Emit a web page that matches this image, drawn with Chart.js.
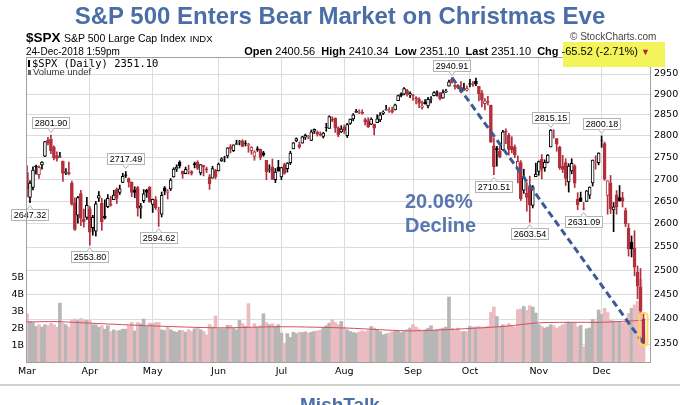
<!DOCTYPE html>
<html>
<head>
<meta charset="utf-8">
<script src="https://cdn.jsdelivr.net/npm/chart.js@4.4.1/dist/chart.umd.min.js"></script>
<style>
body { margin: 0; background: #fff; }
#wrap { position: relative; width: 680px; height: 405px; overflow: hidden; font-family: "Liberation Sans", Arial, sans-serif; }
#wrap div { position: absolute; white-space: nowrap; }
canvas { position: absolute; left: 0; top: 0; }
#title { left: 0; width: 680px; top: 4px; text-align: center; font: bold 24px/24px "Liberation Sans", Arial; color: #4b6ea6; }
#sym { left: 26px; top: 31px; font: bold 13.5px/13.5px "Liberation Sans", Arial; }
#name { left: 64px; top: 33px; font: 10.5px/10.5px "Liberation Sans", Arial; }
#name span { font-size: 9.5px; margin-left: 4px; }
#date { left: 26px; top: 47px; font: 10px/10px "Liberation Sans", Arial; }
#yellow { left: 563px; top: 42px; width: 102px; height: 25px; background: #f3f35a; }
#info { right: 30px; top: 46px; font: 11px/11px "Liberation Sans", Arial; }
#info .tri { color: #a8282e; font-size: 9px; }
#sc { left: 570px; top: 32px; font: 10px/10px "Liberation Sans", Arial; color: #444; }
#legend { left: 32px; top: 58px; font: 10.5px/10.5px "DejaVu Sans Mono", monospace; }
#legend2 { left: 33px; top: 67px; font: 9.5px/9.5px "Liberation Sans", Arial; color: #333; }
#ic1 { left: 28px; top: 60px; width: 2px; height: 7px; background: #000; }
#ic2 { left: 28px; top: 70px; width: 3px; height: 5px; background: #666; }
#decline { left: 405px; top: 189px; font: bold 20px/24px "Liberation Sans", Arial; color: #5876af; }
#sep { left: 0; top: 384px; width: 680px; height: 2px; background: #d2d2d2; }
#mish { left: 0; width: 680px; top: 395px; text-align: center; font: bold 19px/19px "Liberation Sans", Arial; color: #4b6ea6; }
</style>
</head>
<body>
<div id="wrap">
<canvas id="chart" width="680" height="405"></canvas>
<div id="title">S&amp;P 500 Enters Bear Market on Christmas Eve</div>
<div id="sym">$SPX</div>
<div id="name">S&amp;P 500 Large Cap Index<span>INDX</span></div>
<div id="date">24-Dec-2018 1:59pm</div>
<div id="yellow"></div>
<div id="sc">© StockCharts.com</div>
<div id="info"><b>Open</b> 2400.56 &nbsp;<b>High</b> 2410.34 &nbsp;<b>Low</b> 2351.10 &nbsp;<b>Last</b> 2351.10 &nbsp;<b>Chg</b> -65.52 (-2.71%) <span class="tri">▼</span></div>
<div id="ic1"></div>
<div id="legend">$SPX (Daily) 2351.10</div>
<div id="ic2"></div>
<div id="legend2">Volume undef</div>
<div id="decline">20.06%<br>Decline</div>
<div id="sep"></div>
<div id="mish">MishTalk</div>
</div>
<script>
// daily candles, 1-Mar-2018 .. 24-Dec-2018 (one row per month)
const opens = [
  2715.22,2658.89,2681.06,2730.18,2710.18,2732.75,2752.91,2790.54,2792.31,2774.06,2754.27,2750.57,2741.38,2715.05,2714.99,2691.36,2646.71,2619.35,2667.57,2611.30,2614.41,
  2633.45,2592.17,2584.04,2657.36,2645.82,2617.18,2638.41,2643.89,2653.83,2676.90,2670.10,2692.74,2710.11,2701.16,2692.56,2675.40,2680.80,2634.92,2651.65,2675.47,2682.51,
  2642.96,2654.24,2628.08,2621.45,2680.34,2670.26,2678.12,2705.02,2722.70,2738.47,2718.59,2712.62,2719.71,2717.35,2735.39,2738.34,2713.98,2730.94,2723.60,2705.11,2702.43,2720.98,
  2718.70,2741.67,2748.46,2753.25,2774.84,2765.84,2780.18,2785.60,2787.94,2783.21,2777.78,2765.79,2752.01,2769.73,2769.28,2760.79,2742.94,2722.12,2728.45,2698.69,2727.13,
  2704.95,2733.27,2724.19,2737.68,2769.76,2788.56,2779.82,2783.14,2796.93,2797.36,2789.34,2811.35,2809.37,2804.55,2799.17,2820.68,2817.73,2839.29,2842.35,2819.00,2809.73,
  2821.17,2800.48,2829.62,2840.29,2855.92,2856.79,2857.19,2838.90,2835.46,2827.88,2827.95,2831.44,2838.32,2853.93,2861.51,2860.99,2860.29,2862.35,2884.69,2901.45,2900.62,2908.94,2898.37,
  2896.96,2891.59,2888.64,2868.26,2881.39,2871.57,2888.29,2896.85,2906.38,2903.83,2890.74,2906.60,2919.73,2936.76,2921.83,2921.75,2916.98,2911.65,2910.03,
  2926.29,2923.80,2931.69,2919.35,2902.54,2877.53,2882.51,2873.90,2776.87,2770.54,2763.83,2767.05,2811.67,2802.00,2775.66,2773.94,2721.03,2737.87,2674.88,2667.86,2682.65,2640.68,2705.60,
  2717.58,2745.45,2726.37,2738.40,2774.13,2806.38,2794.10,2773.93,2730.05,2737.90,2693.52,2718.54,2730.74,2654.60,2657.74,2633.36,2649.97,2663.75,2691.45,2736.97,2737.76,
  2790.50,2782.43,2663.51,2691.26,2630.86,2664.44,2658.23,2658.70,2629.68,2590.75,2559.90,2547.05,2496.77,2465.38,2400.56
];
const highs = [
  2730.89,2696.25,2728.09,2732.08,2730.60,2740.45,2786.57,2796.98,2801.90,2777.11,2763.03,2761.85,2741.38,2724.22,2739.14,2695.68,2657.67,2661.36,2674.78,2632.65,2659.07,
  2638.30,2619.14,2649.86,2672.08,2656.88,2653.55,2665.45,2661.43,2674.72,2680.26,2686.49,2713.34,2717.49,2702.84,2693.94,2682.86,2683.55,2645.30,2676.48,2677.35,2682.87,
  2655.27,2660.87,2637.14,2670.93,2683.35,2676.34,2701.27,2726.11,2732.86,2742.10,2718.59,2727.76,2731.96,2719.50,2739.19,2742.24,2733.33,2731.97,2727.36,2710.67,2729.34,2722.50,
  2736.93,2749.16,2752.61,2772.39,2779.90,2779.39,2790.21,2789.80,2791.47,2789.06,2782.81,2774.99,2765.05,2774.86,2769.28,2764.17,2742.94,2732.91,2746.09,2724.34,2743.26,
  2727.26,2736.58,2737.83,2764.41,2784.65,2795.58,2785.91,2799.22,2804.53,2801.19,2814.19,2816.76,2812.05,2809.70,2808.61,2829.99,2848.03,2845.85,2843.17,2821.74,2824.46,
  2825.83,2829.91,2840.38,2853.29,2863.43,2862.44,2862.48,2842.20,2843.40,2843.11,2827.95,2850.49,2855.63,2859.76,2873.23,2867.54,2868.78,2876.16,2898.25,2903.77,2916.50,2912.46,2906.32,
  2900.18,2894.21,2892.05,2883.81,2886.93,2892.52,2894.65,2906.76,2908.30,2904.65,2911.17,2912.36,2934.80,2940.91,2923.79,2923.95,2931.15,2927.22,2920.53,
  2937.06,2931.42,2939.86,2919.78,2909.64,2889.45,2894.83,2874.02,2795.14,2775.77,2775.99,2813.46,2816.94,2806.04,2797.77,2778.94,2753.59,2742.59,2722.70,2692.38,2706.85,2685.43,2736.69,
  2741.67,2756.55,2744.27,2756.82,2815.15,2814.75,2794.10,2775.99,2754.60,2746.80,2735.38,2746.75,2733.16,2669.44,2670.73,2647.55,2674.35,2682.53,2744.00,2753.75,2760.88,
  2800.18,2785.93,2696.15,2708.54,2647.51,2674.35,2685.44,2670.19,2635.07,2601.13,2573.99,2585.29,2509.63,2504.41,2410.34
];
const lows = [
  2659.65,2647.32,2675.75,2711.26,2701.74,2722.65,2751.54,2779.26,2758.68,2744.38,2741.47,2749.97,2694.59,2710.05,2709.79,2641.59,2585.89,2601.81,2596.12,2593.06,2609.72,
  2553.80,2575.49,2573.61,2649.58,2586.27,2610.79,2635.78,2639.25,2653.83,2645.05,2665.16,2692.05,2703.63,2681.90,2660.61,2657.99,2617.32,2612.67,2647.16,2659.01,2648.04,
  2625.41,2631.70,2594.62,2615.32,2664.70,2655.20,2674.14,2704.54,2717.45,2725.47,2701.91,2712.17,2711.36,2709.18,2725.70,2721.88,2709.54,2707.38,2714.99,2676.81,2702.43,2700.68,
  2718.70,2740.54,2739.51,2748.46,2760.16,2763.59,2780.17,2778.78,2774.65,2776.52,2761.73,2757.12,2743.19,2763.91,2744.39,2752.68,2698.67,2715.60,2699.38,2691.99,2718.03,
  2698.95,2711.16,2716.02,2733.52,2769.76,2786.24,2770.77,2783.14,2791.69,2793.39,2789.24,2805.89,2799.77,2800.01,2795.14,2811.12,2817.73,2833.75,2808.34,2798.11,2808.06,
  2805.85,2796.34,2827.37,2835.98,2855.92,2853.09,2851.98,2825.81,2819.88,2826.58,2802.49,2831.44,2833.73,2850.62,2861.32,2856.05,2854.03,2862.35,2884.69,2893.50,2898.40,2895.22,2891.73,
  2885.13,2876.92,2867.29,2864.12,2875.94,2866.78,2879.20,2896.39,2895.77,2886.16,2890.43,2903.82,2919.73,2927.11,2912.63,2913.70,2903.28,2909.27,2907.50,
  2917.91,2919.37,2921.36,2883.92,2869.29,2862.08,2874.27,2784.86,2710.51,2729.44,2749.03,2766.91,2781.81,2755.18,2760.27,2749.22,2691.43,2651.89,2667.84,2628.16,2603.54,2635.34,2705.60,
  2708.85,2700.44,2717.94,2737.08,2774.13,2794.99,2764.24,2722.00,2714.98,2685.75,2670.75,2712.16,2681.09,2631.52,2649.82,2631.09,2649.97,2655.89,2684.38,2722.94,2732.76,
  2773.38,2697.18,2621.53,2623.14,2583.23,2621.30,2650.26,2637.27,2593.84,2530.54,2528.71,2488.96,2441.18,2408.55,2351.10
];
const closes = [
  2677.67,2691.25,2720.94,2728.12,2726.80,2738.97,2786.57,2783.02,2765.31,2749.48,2747.33,2752.01,2712.92,2716.94,2711.93,2643.69,2588.26,2658.55,2612.62,2605.00,2640.87,
  2581.88,2614.45,2644.69,2662.84,2604.47,2613.16,2656.87,2642.19,2663.99,2656.30,2677.84,2706.39,2708.64,2693.13,2670.14,2670.29,2634.56,2639.40,2666.94,2669.91,2648.05,
  2654.80,2635.67,2629.73,2663.42,2672.63,2671.92,2697.79,2723.07,2727.72,2730.13,2711.45,2722.46,2720.13,2712.97,2733.01,2724.44,2733.29,2727.76,2721.33,2689.86,2724.01,2705.27,
  2734.62,2746.87,2748.80,2772.35,2770.37,2779.03,2782.00,2786.85,2775.63,2782.49,2779.66,2773.75,2762.59,2767.32,2749.76,2754.88,2717.07,2723.06,2699.63,2716.31,2718.37,
  2726.71,2713.22,2736.61,2759.82,2784.17,2793.84,2774.02,2798.29,2801.31,2798.43,2809.55,2815.62,2804.49,2801.83,2806.98,2820.40,2846.07,2837.44,2818.82,2802.60,2816.29,
  2813.36,2827.22,2840.35,2850.40,2858.45,2857.70,2853.58,2833.28,2821.93,2839.96,2818.37,2840.69,2850.13,2857.05,2862.96,2861.82,2856.98,2874.69,2896.74,2897.52,2914.04,2901.13,2901.52,
  2896.72,2888.60,2878.05,2871.68,2877.13,2887.89,2888.92,2904.18,2904.98,2888.80,2904.31,2907.95,2930.75,2929.67,2919.37,2915.56,2905.97,2914.00,2913.98,
  2924.59,2923.43,2925.51,2901.61,2885.57,2884.43,2880.34,2785.68,2728.37,2767.13,2750.79,2809.92,2809.21,2768.78,2767.78,2755.88,2740.69,2656.10,2705.57,2658.69,2641.25,2682.63,2711.74,
  2740.37,2723.06,2738.31,2755.45,2813.89,2806.83,2781.01,2726.22,2722.18,2701.58,2730.20,2736.27,2690.73,2641.89,2649.93,2632.56,2673.45,2682.17,2743.79,2737.80,2760.17,
  2790.37,2700.06,2695.95,2633.08,2637.72,2636.78,2651.07,2650.54,2599.95,2545.94,2546.16,2506.96,2467.42,2416.62,2351.10
];
const prevClose = 2713.83; // 28-Feb-2018

// volume, billions of shares
const volumes = [
  2.88,2.43,2.37,2.14,2.24,2.10,2.24,2.18,2.33,2.24,2.10,3.50,2.33,2.24,2.10,2.53,2.57,2.49,2.60,2.53,2.49,
  2.49,2.24,2.24,2.10,2.18,1.98,2.18,1.84,1.94,1.88,1.90,1.98,1.98,2.18,2.37,1.88,2.37,2.29,2.57,2.14,2.33,
  2.29,2.37,2.37,1.94,1.90,2.10,1.95,1.85,1.80,1.90,1.90,1.80,1.95,1.85,2.00,2.05,1.95,1.85,1.65,2.25,2.10,2.75,
  2.00,2.00,2.00,2.20,2.20,2.05,1.95,2.49,2.30,2.15,3.47,2.04,2.30,2.10,2.18,2.88,2.37,2.24,2.29,2.14,2.24,
  1.75,1.16,1.72,1.50,1.80,1.72,1.80,1.78,1.82,1.75,1.80,1.85,1.88,1.92,2.05,2.18,2.33,2.53,2.37,2.24,2.43,
  2.10,1.94,1.84,1.78,1.75,1.82,1.88,1.84,1.90,2.14,2.05,1.94,1.84,1.65,1.70,1.75,1.84,1.90,1.88,1.78,1.84,1.95,2.05,
  2.24,2.10,1.98,1.84,1.94,2.04,2.18,1.90,1.95,2.00,2.04,2.10,3.86,2.04,1.94,2.04,1.84,1.84,1.85,
  2.14,2.10,2.10,2.14,2.04,2.10,2.14,2.96,3.28,2.72,2.14,2.24,2.18,2.30,2.20,2.10,3.12,3.16,3.31,3.08,3.35,3.27,2.92,
  2.24,2.14,2.04,2.10,2.24,2.18,2.04,2.14,2.24,2.30,2.40,2.35,2.38,2.10,2.20,0.95,2.00,2.05,2.55,2.45,3.10,
  2.85,3.20,2.95,2.50,2.45,2.40,2.40,2.35,2.45,2.90,3.20,3.40,3.60,4.90,1.90
];

// volume moving average, read at a few days
const maDays = [0, 10, 21, 42, 64, 85, 106, 120, 129, 140, 148, 160, 171, 185, 192, 206];
const maVols = [2.40, 2.42, 2.33, 2.17, 2.06, 2.12, 2.05, 1.93, 1.88, 1.95, 2.02, 2.15, 2.35, 2.38, 2.38, 2.50];

// axes
const monthStarts = [0, 21, 42, 64, 85, 106, 129, 148, 171, 192];
const monthNames = ['Mar', 'Apr', 'May', 'Jun', 'Jul', 'Aug', 'Sep', 'Oct', 'Nov', 'Dec'];
const priceTicks = [2350, 2400, 2450, 2500, 2550, 2600, 2650, 2700, 2750, 2800, 2850, 2900, 2950];
const volTicks = [1, 2, 3, 4, 5];

// labelled highs / lows and the decline line (Sep 21 high -> Dec 24)
const labelSpots = [[1, 'low'], [8, 'high'], [21, 'low'], [33, 'high'], [44, 'low'], [142, 'high'],
  [156, 'low'], [168, 'low'], [175, 'high'], [186, 'low'], [192, 'high']];
const trendDays = [142, 206];

const RED = '#b3303d';
const BLACK = '#000';
const last = closes.length - 1;
const upDay = i => closes[i] >= (i ? closes[i - 1] : prevClose);
const hollow = i => closes[i] > opens[i];
const candleColor = c => upDay(c.dataIndex) ? BLACK : RED;

const days = closes.map((c, i) => i);
const wickData = days.map(i => ({x: i, y: [lows[i], highs[i]]}));
const bodyData = days.map(i => ({x: i, y: [Math.min(opens[i], closes[i]), Math.max(opens[i], closes[i])]}));
const volData = days.map(i => ({x: i, y: volumes[i]}));
const maData = maDays.map((d, k) => ({x: d, y: maVols[k]}));
const trendData = [{x: trendDays[0], y: highs[trendDays[0]]}, {x: trendDays[1], y: lows[trendDays[1]]}];

// labels, last-bar highlight and plot frame
const decor = {
  id: 'decor',
  afterDatasetsDraw(chart) {
    const {ctx, chartArea: a, scales: {x, y}} = chart;
    ctx.save();

    const lx = x.getPixelForValue(last);
    const t = y.getPixelForValue(highs[last]) - 1;
    const b = y.getPixelForValue(lows[last]) + 2;
    ctx.strokeStyle = 'rgba(255,214,80,0.95)';
    ctx.lineWidth = 2;
    ctx.beginPath();
    ctx.roundRect(lx - 4, t, 8, b - t, 3);
    ctx.stroke();

    ctx.font = '9px "Liberation Sans", Arial';
    ctx.textAlign = 'center';
    ctx.textBaseline = 'middle';
    ctx.lineWidth = 1;
    labelSpots.forEach(([i, kind]) => {
      const v = kind === 'high' ? highs[i] : lows[i];
      const px = x.getPixelForValue(i);
      const py = y.getPixelForValue(v);
      const txt = v.toFixed(2);
      const w = Math.round(ctx.measureText(txt).width + 4);
      const h = 11;
      const bx = Math.round(px - w / 2) + 0.5;
      const by = kind === 'high' ? Math.round(py - 7 - h) + 0.5 : Math.round(py + 6) + 0.5;
      ctx.fillStyle = '#fff';
      ctx.strokeStyle = '#b4b4b4';
      ctx.fillRect(bx, by, w, h);
      ctx.strokeRect(bx, by, w, h);
      const edge = kind === 'high' ? by + h : by;
      const tip = kind === 'high' ? edge + 4 : edge - 4;
      ctx.beginPath();
      ctx.moveTo(px - 3, edge);
      ctx.lineTo(px, tip);
      ctx.lineTo(px + 3, edge);
      ctx.fill();
      ctx.stroke();
      ctx.fillStyle = '#000';
      ctx.fillText(txt, bx + w / 2, by + h / 2 + 0.5);
    });

    ctx.strokeStyle = '#a0a0a0';
    ctx.strokeRect(a.left + 0.5, a.top + 0.5, a.width - 1, a.height - 1);
    ctx.restore();
  }
};

const axisFont = {family: 'DejaVu Sans', size: 9.5};

new Chart(document.getElementById('chart'), {
  type: 'bar',
  data: {
    datasets: [
      {
        type: 'line', data: trendData, yAxisID: 'y', order: 0,
        borderColor: '#3b5a96', borderWidth: 3, borderDash: [7, 4], pointRadius: 0
      },
      {
        data: bodyData, yAxisID: 'y', order: 1, grouped: false, barThickness: 3,
        backgroundColor: c => hollow(c.dataIndex) ? '#fff' : candleColor(c),
        borderColor: candleColor, borderWidth: 1, borderSkipped: false
      },
      {
        data: wickData, yAxisID: 'y', order: 2, grouped: false, barThickness: 1,
        backgroundColor: candleColor
      },
      {
        type: 'line', data: maData, yAxisID: 'yv', order: 3,
        borderColor: '#d2505c', borderWidth: 1, pointRadius: 0, tension: 0.3
      },
      {
        data: volData, yAxisID: 'yv', order: 4, grouped: false, barThickness: 3,
        backgroundColor: c => upDay(c.dataIndex) ? '#b6b6b6' : '#eabcc1'
      }
    ]
  },
  options: {
    responsive: false,
    devicePixelRatio: 1,
    animation: false,
    layout: {padding: {top: 57, left: 0, right: 0, bottom: 0}},
    plugins: {legend: {display: false}, tooltip: {enabled: false}},
    scales: {
      x: {
        type: 'linear', min: -0.33, max: 208.5, offset: false,
        afterBuildTicks: s => { s.ticks = monthStarts.map(v => ({value: v})); },
        afterFit: s => { s.height = 42; },
        grid: {color: '#dcdcdc', drawTicks: false, offset: false},
        border: {display: false},
        ticks: {
          callback: (v, k) => monthNames[k], autoSkip: false, maxRotation: 0,
          padding: 3, color: '#000', font: axisFont
        }
      },
      y: {
        type: 'logarithmic', position: 'right', min: 2312.7, max: 2992.6,
        afterBuildTicks: s => { s.ticks = priceTicks.map(v => ({value: v})); },
        afterFit: s => { s.width = 29; },
        grid: {color: '#dcdcdc', drawTicks: false},
        border: {display: false},
        ticks: {callback: v => String(v), padding: 3, color: '#000', font: axisFont}
      },
      yv: {
        type: 'linear', position: 'left', min: 0, max: 17.9,
        afterBuildTicks: s => { s.ticks = volTicks.map(v => ({value: v})); },
        afterFit: s => { s.width = 26; },
        grid: {display: false, drawTicks: false},
        border: {display: false},
        ticks: {callback: v => v + 'B', padding: 2, color: '#000', font: axisFont}
      }
    }
  },
  plugins: [decor]
});
</script>
</body>
</html>
